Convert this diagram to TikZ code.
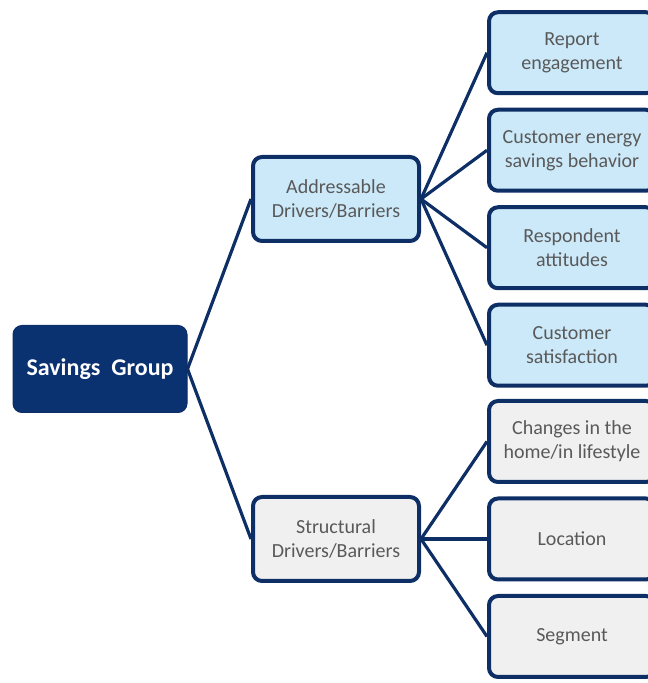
\documentclass[tikz,border=0pt]{standalone}
\usepackage{fontspec}
\setmainfont{Carlito}
\definecolor{navy}{RGB}{14,46,102}
\definecolor{rootfill}{RGB}{10,49,112}
\definecolor{paleblue}{RGB}{204,233,249}
\definecolor{palegray}{RGB}{240,240,240}
\definecolor{textgray}{RGB}{89,89,89}
\begin{document}
\begin{tikzpicture}[x=1pt,y=1pt,grow'=right,level distance=236pt,
  level 1/.style={sibling distance=340pt},
  level 2/.style={sibling distance=97.5pt},
  edge from parent/.style={draw=navy,line width=3.2pt},
  edge from parent path={(\tikzparentnode.east) -- (\tikzchildnode.west)},
  every node/.style={font=\fontsize{20}{24}\selectfont,text=textgray,align=center},
  rootbox/.style={rectangle,rounded corners=9pt,fill=rootfill,draw=navy,line width=1pt,
    minimum width=174pt,minimum height=87pt,text=white,font=\fontsize{24}{28}\selectfont\bfseries},
  groupbox/.style={rectangle,rounded corners=9pt,draw=navy,line width=4pt,
    minimum width=166pt,minimum height=84pt},
  itembox/.style={rectangle,rounded corners=9pt,draw=navy,line width=4pt,
    minimum width=166pt,minimum height=81pt}]
\useasboundingbox (0,0) rectangle (648,683);
\clip (0,0) rectangle (648,683);
\node[rootbox] (root) at (100,314) {Savings\ \ Group}
 child{node[groupbox,fill=paleblue] (addr) {Addressable\\Drivers/Barriers}
   child{node[itembox,fill=paleblue] (report) {Report\\engagement}}
   child{node[itembox,fill=paleblue] (behavior) {Customer energy\\savings behavior}}
   child{node[itembox,fill=paleblue] (attitude) {Respondent\\attitudes}}
   child{node[itembox,fill=paleblue] (satisf) {Customer\\satisfaction}}}
 child{node[groupbox,fill=palegray] (struct) {Structural\\Drivers/Barriers}
   child{node[itembox,fill=palegray] (changes) {Changes in the\\home/in lifestyle}}
   child{node[itembox,fill=palegray] (location) {Location}}
   child{node[itembox,fill=palegray] (segment) {Segment}}};
\end{tikzpicture}
\end{document}
